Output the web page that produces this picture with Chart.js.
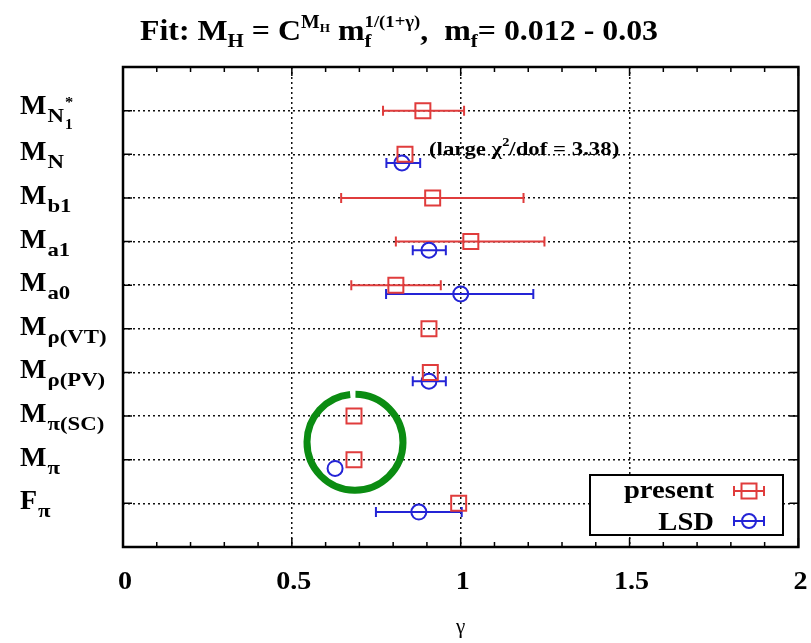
<!DOCTYPE html>
<html><head><meta charset="utf-8">
<script src="https://cdn.jsdelivr.net/npm/chart.js@4/dist/chart.umd.min.js"></script>
<style>html,body{margin:0;padding:0;background:#fff}#wrap{width:811px;height:643px}</style>
</head><body><div id="wrap"><canvas id="c" width="811" height="643"></canvas></div>
<script>
// ---- data ----
const categories = ['M_N1*','M_N','M_b1','M_a1','M_a0','M_rho(VT)','M_rho(PV)','M_pi(SC)','M_pi','F_pi'];
const labelMain = ['M','M','M','M','M','M','M','M','M','F'];
const labelSub  = ['N','N','b1','a1','a0','ρ(VT)','ρ(PV)','π(SC)','π','π'];
const presentVal = [0.888,0.835,0.917,1.030,0.808,0.906,0.910,0.684,0.684,0.994];
const presentLo  = [0.770,null,0.646,0.808,0.676,null,null,null,null,null];
const presentHi  = [1.010,null,1.186,1.248,0.941,null,null,null,null,null];
const lsdVal = [null,0.826,null,0.906,1.000,null,0.906,null,0.628,0.876];
const lsdLo  = [null,0.780,null,0.858,0.779,null,0.858,null,null,0.749];
const lsdHi  = [null,0.880,null,0.956,1.215,null,0.956,null,null,1.003];
const xTicks = [0,0.5,1,1.5,2];
const xTickLabels = ['0','0.5','1','1.5','2'];
const xMinorStep = 0.1;
const legendLabels = ['present','LSD'];
const xTitle = 'γ';

// ---- styles ----
const RED = '#e03c3c', BLUE = '#2424d6', GREEN = '#0b8c12';
const SERIF = '"Liberation Serif","DejaVu Serif",serif';
const LSD_OFFSET = 0.2;
const f = (w, s) => `${w} ${s}px ${SERIF}`;

function pts(vals, lo, hi, off) {
  const out = [];
  vals.forEach((v, i) => { if (v != null) out.push({x: v, y: i + 1 + off, lo: lo[i], hi: hi[i]}); });
  return out;
}

// parts: {t, s, dy, adv, w:weight}
function drawRich(ctx, x, base, parts, align, h) {
  h = h || 1;
  let total = 0;
  parts.forEach(p => { ctx.font = f(p.wt || 'bold', p.s); p.w = ctx.measureText(p.t).width * h; if (p.adv !== false) total += p.w; });
  let cx = align === 'center' ? x - total / 2 : (align === 'right' ? x - total : x);
  ctx.textAlign = 'left'; ctx.textBaseline = 'alphabetic';
  parts.forEach(p => {
    ctx.font = f(p.wt || 'bold', p.s);
    ctx.save(); ctx.translate(cx, base + (p.dy || 0)); ctx.scale(h, 1);
    ctx.fillText(p.t, 0, 0); ctx.restore();
    if (p.adv !== false) cx += p.w;
  });
  return cx;
}

const deco = {
  id: 'deco',
  beforeDatasetsDraw(chart) {
    const {ctx} = chart, xs = chart.scales.x, ys = chart.scales.y;
    chart.data.datasets.forEach(ds => {
      ctx.save(); ctx.strokeStyle = ds.borderColor; ctx.lineWidth = 2;
      ds.data.forEach(p => {
        if (p.lo == null) return;
        const y = ys.getPixelForValue(p.y), a = xs.getPixelForValue(p.lo), b = xs.getPixelForValue(p.hi);
        ctx.beginPath();
        ctx.moveTo(a, y); ctx.lineTo(b, y);
        ctx.moveTo(a, y - 5); ctx.lineTo(a, y + 5);
        ctx.moveTo(b, y - 5); ctx.lineTo(b, y + 5);
        ctx.stroke();
      });
      ctx.restore();
    });
  },
  afterDraw(chart) {
    const {ctx, chartArea: ca} = chart, xs = chart.scales.x, ys = chart.scales.y;
    ctx.save();
    ctx.fillStyle = '#000'; ctx.strokeStyle = '#000';
    // ticks
    ctx.lineWidth = 1.5;
    ctx.beginPath();
    for (let k = 0; k <= Math.round(2 / xMinorStep); k++) {
      const v = k * xMinorStep, px = xs.getPixelForValue(v);
      const L = (Math.abs(v / 0.5 - Math.round(v / 0.5)) < 1e-6) ? 9 : 5;
      ctx.moveTo(px, ca.bottom); ctx.lineTo(px, ca.bottom - L);
      ctx.moveTo(px, ca.top); ctx.lineTo(px, ca.top + L);
    }
    categories.forEach((c, i) => {
      const py = ys.getPixelForValue(i + 1);
      ctx.moveTo(ca.left, py); ctx.lineTo(ca.left + 9, py);
      ctx.moveTo(ca.right, py); ctx.lineTo(ca.right - 9, py);
    });
    ctx.stroke();
    // frame
    ctx.lineWidth = 2.5;
    ctx.strokeRect(ca.left, ca.top, ca.right - ca.left, ca.bottom - ca.top);
    // x tick labels
    xTicks.forEach((v, i) => drawRich(ctx, xs.getPixelForValue(v) + 2, 589, [{t: xTickLabels[i], s: 26}], 'center', 1.08));
    // x title
    ctx.font = f('normal', 21); ctx.textAlign = 'center';
    ctx.fillText(xTitle, xs.getPixelForValue(1), 633);
    // y labels
    categories.forEach((c, i) => {
      const py = ys.getPixelForValue(i + 1);
      const x0 = 20;
      const dyTop = i === 0 ? -3 : 0;
      let cx = drawRich(ctx, x0, py + 6 + dyTop, [{t: labelMain[i], s: 28}], 'left', 1.0);
      cx = drawRich(ctx, cx + 1, py + 14 + dyTop, [{t: labelSub[i], s: 19}], 'left', 1.2);
      if (i === 0) {
        drawRich(ctx, cx + 1, py - 1 + dyTop, [{t: '*', s: 15}], 'left', 1.1);
        drawRich(ctx, cx + 1, py + 21 + dyTop, [{t: '1', s: 14}], 'left', 1.1);
      }
    });
    // note
    const nx = xs.getPixelForValue(0.906), ny = ys.getPixelForValue(2) + 1;
    drawRich(ctx, nx, ny, [{t:'(large χ', s:19},{t:'2', s:12, dy:-9},{t:'/dof = 3.38)', s:19}], 'left', 1.2);
    // title
    drawRich(ctx, 399, 40, [
      {t:'Fit: M', s:29},{t:'H', s:19, dy:7},{t:' = C', s:29},
      {t:'M', s:18, dy:-12},{t:'H', s:12, dy:-8},{t:' m', s:29},
      {t:'f', s:19, dy:7, adv:false},{t:'1/(1+γ)', s:17, dy:-13},
      {t:',  m', s:29},{t:'f', s:19, dy:7},{t:'= 0.012 - 0.03', s:29}
    ], 'center', 1.1);
    // legend
    const bx = 590, by = 475, bw = 193, bh = 60;
    ctx.fillStyle = '#fff'; ctx.fillRect(bx, by, bw, bh);
    ctx.lineWidth = 2; ctx.strokeStyle = '#000'; ctx.strokeRect(bx, by, bw, bh);
    ctx.fillStyle = '#000';
    drawRich(ctx, 714, 498, [{t: legendLabels[0], s: 26}], 'right', 1.1);
    drawRich(ctx, 714, 530, [{t: legendLabels[1], s: 26}], 'right', 1.1);
    [[RED, 491, 'rect'], [BLUE, 521, 'circle']].forEach(([col, yy, st]) => {
      ctx.strokeStyle = col; ctx.lineWidth = 2;
      ctx.beginPath();
      ctx.moveTo(734, yy); ctx.lineTo(764, yy);
      ctx.moveTo(734, yy - 5); ctx.lineTo(734, yy + 5);
      ctx.moveTo(764, yy - 5); ctx.lineTo(764, yy + 5);
      ctx.stroke();
      ctx.beginPath();
      if (st === 'rect') ctx.rect(749 - 7.5, yy - 7.5, 15, 15);
      else ctx.arc(749, yy, 7, 0, Math.PI * 2);
      ctx.stroke();
    });
    // green annotation circle
    const gx = xs.getPixelForValue(0.687), gy = ys.getPixelForValue(8.6);
    ctx.strokeStyle = GREEN; ctx.lineWidth = 7; ctx.lineCap = 'butt';
    ctx.beginPath();
    ctx.arc(gx, gy, 48, -Math.PI / 2 + 0.01, -Math.PI / 2 - 0.1 + Math.PI * 2);
    ctx.stroke();
    ctx.restore();
  }
};

const chart = new Chart(document.getElementById('c'), {
  type: 'scatter',
  data: {
    datasets: [
      {label: legendLabels[0], data: pts(presentVal, presentLo, presentHi, 0), pointStyle: 'rect', pointRadius: 10.6,
       borderColor: RED, backgroundColor: 'rgba(0,0,0,0)', borderWidth: 2, pointHoverRadius: 10.6},
      {label: legendLabels[1], data: pts(lsdVal, lsdLo, lsdHi, LSD_OFFSET), pointStyle: 'circle', pointRadius: 7.5,
       borderColor: BLUE, backgroundColor: 'rgba(0,0,0,0)', borderWidth: 2, pointHoverRadius: 7.5}
    ]
  },
  options: {
    responsive: false, animation: false,
    layout: {padding: {left: 123, right: 11, top: 67, bottom: 96}},
    plugins: {legend: {display: false}, tooltip: {enabled: false}},
    scales: {
      x: {type: 'linear', min: 0, max: 2, afterFit(s) { s.height = 0; },
          ticks: {display: false, stepSize: 0.5},
          grid: {drawTicks: false, lineWidth: 1.5,
                 color: c => (c.tick && c.tick.value > 0 && c.tick.value < 2) ? '#111' : 'rgba(0,0,0,0)'},
          border: {display: false, dash: [2, 3]}},
      y: {type: 'linear', min: 0, max: 11, reverse: true, afterFit(s) { s.width = 0; },
          ticks: {display: false, stepSize: 1},
          grid: {drawTicks: false, lineWidth: 1.5,
                 color: c => (c.tick && c.tick.value >= 1 && c.tick.value <= 10) ? '#111' : 'rgba(0,0,0,0)'},
          border: {display: false, dash: [2, 3]}}
    }
  },
  plugins: [deco]
});
</script></body></html>
